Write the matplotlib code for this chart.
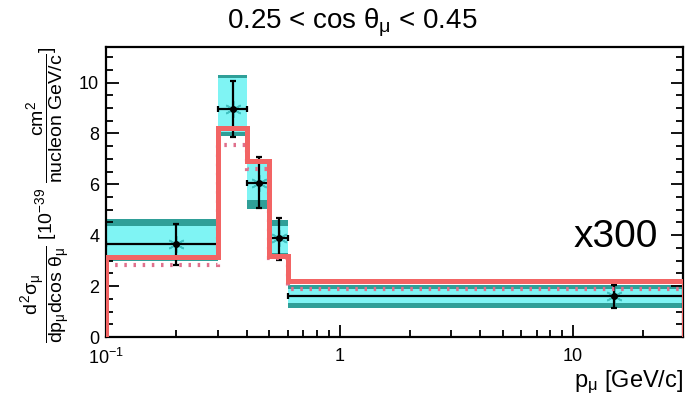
import numpy as np
import matplotlib
matplotlib.use("Agg")
import matplotlib.pyplot as plt
from matplotlib.ticker import MultipleLocator, FixedLocator, NullFormatter

plt.rcParams['font.family'] = ['Liberation Sans', 'DejaVu Sans']
plt.rcParams['mathtext.fontset'] = 'custom'
plt.rcParams['mathtext.rm'] = 'Liberation Sans'
plt.rcParams['mathtext.it'] = 'Liberation Sans'
plt.rcParams['mathtext.bf'] = 'Liberation Sans:bold'

# bins in p_mu [GeV/c]
edges = [0.1, 0.3, 0.4, 0.5, 0.6, 30.0]
# data points
p_data = [0.2, 0.35, 0.45, 0.55, 15.0]
xs_data = [3.65, 8.95, 6.07, 3.9, 1.61]
err_up = [0.78, 1.12, 1.02, 0.78, 0.44]
err_dn = [0.82, 1.10, 1.01, 0.87, 0.47]
# outer (dark) and inner (cyan) error bands
band_out_lo = [3.0, 7.9, 5.02, 3.2, 1.14]
band_out_hi = [4.65, 10.28, 7.0, 4.58, 2.05]
band_in_lo = [3.15, 8.06, 5.38, 3.3, 1.33]
band_in_hi = [4.37, 10.18, 6.8, 4.36, 1.9]
# model predictions
model_solid = [3.15, 8.2, 6.93, 3.2, 2.2]
model_dotted = [2.82, 7.55, 6.6, 3.1, 1.9]

fig = plt.figure(figsize=(6.94, 4.08), dpi=100)
ax = fig.add_axes([0.153, 0.174, 0.831, 0.711])

e = np.array(edges)
w = np.diff(e)
ax.bar(e[:-1], np.array(band_out_hi) - np.array(band_out_lo), bottom=band_out_lo,
       width=w, align='edge', color='#2f9f98', linewidth=0, zorder=1)
ax.bar(e[:-1], np.array(band_in_hi) - np.array(band_in_lo), bottom=band_in_lo,
       width=w, align='edge', color='#7ff4f4', linewidth=0, zorder=2)

xerr = [np.array(p_data) - e[:-1], e[1:] - np.array(p_data)]
ax.plot(p_data, xs_data, linestyle='none', marker=(6, 2, 0), markersize=12,
        color='#40c0c0', markeredgewidth=1.2, zorder=3)
ax.errorbar(p_data, xs_data, yerr=[err_dn, err_up], xerr=xerr, fmt='o',
            color='black', markersize=4, elinewidth=1.6, capsize=2.5,
            capthick=1.6, zorder=4)

ax.stairs(model_dotted, edges, baseline=None, color='#e0708c', linewidth=3,
          linestyle=(0, (0.6, 1.6)), zorder=5)
ax.stairs(model_solid, edges, baseline=0, color='#f26464', linewidth=3.6,
          zorder=6)

ax.set_xscale('log')
ax.set_xlim(0.1, 29.6)
ax.set_ylim(0, 11.4)

ax.set_xticks([0.1, 1, 10])
ax.set_xticklabels([r'$10^{-1}$', '1', '10'])
ax.xaxis.set_minor_locator(FixedLocator(
    [0.2, 0.3, 0.4, 0.5, 0.6, 0.7, 0.8, 0.9, 2, 3, 4, 5, 6, 7, 8, 9, 20]))
ax.xaxis.set_minor_formatter(NullFormatter())
ax.yaxis.set_major_locator(MultipleLocator(2))
ax.yaxis.set_minor_locator(MultipleLocator(0.5))
ax.tick_params(which='both', direction='in', top=False, right=True,
               width=1.3, labelsize=13)
ax.tick_params(which='major', length=9)
ax.tick_params(which='minor', length=5)
ax.tick_params(axis='x', which='major', pad=8)
ax.tick_params(axis='y', which='major', pad=5)
for s in ax.spines.values():
    s.set_linewidth(1.6)

ax.set_xlabel(r'p$_{\mu}$ [GeV/c]', fontsize=17, loc='right', labelpad=0)
ax.set_ylabel(r'$\dfrac{d^{2}\sigma_{\mu}}{dp_{\mu}dcos\ \theta_{\mu}}$ '
              r'[10$^{-39}$ $\dfrac{cm^{2}}{nucleon\ GeV/c}$]',
              fontsize=14, loc='top', labelpad=5)

ax.text(0.957, 3.94, 'x300', transform=ax.get_yaxis_transform(),
        ha='right', va='center', fontsize=28)
fig.text(0.507, 0.944, r'0.25 < cos $\theta_{\mu}$ < 0.45', ha='center',
         va='center', fontsize=20)

fig.savefig('out.png', dpi=100)
